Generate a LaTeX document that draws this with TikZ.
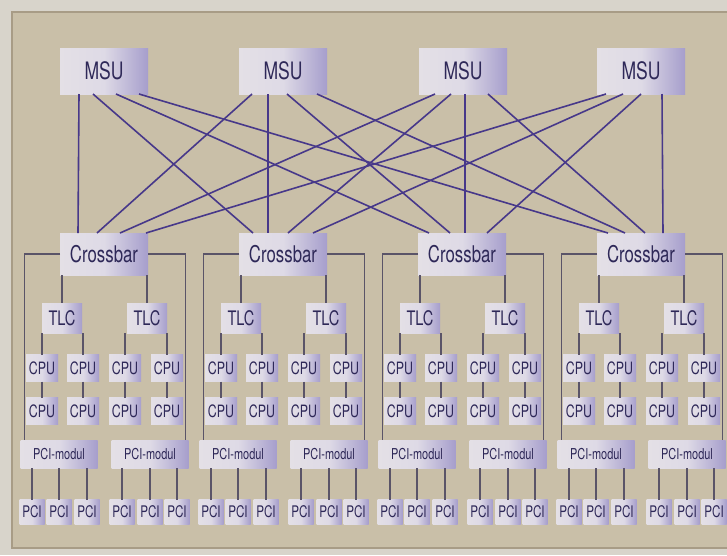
\documentclass[tikz,border=0pt]{standalone}
\usepackage{fontspec}
\setmainfont[FakeStretch=0.73]{TeX Gyre Heros}
\usetikzlibrary{calc}
\definecolor{outerbg}{HTML}{D8D4CB}
\definecolor{panel}{HTML}{C9BFA8}
\definecolor{panelline}{HTML}{A89C86}
\definecolor{boxL}{HTML}{E4E0E6}
\definecolor{boxM}{HTML}{DEDAE6}
\definecolor{boxR}{HTML}{A69ECC}
\definecolor{txt}{HTML}{2E2858}
\definecolor{buscol}{HTML}{47388A}
\definecolor{wirecol}{HTML}{5A5468}
\newcommand\msulink[4]{\draw[bus] ($(msu#1.south west)+(#2,0)$) -- ($(cb#3.north west)+(#4,0)$);}
\begin{document}
\begin{tikzpicture}[x=1pt,y=-1pt,
  unit/.style={inner sep=0pt, outer sep=0pt, left color=boxL, right color=boxR, middle color=boxM, text=txt, anchor=center},
  msubox/.style={unit, minimum width=88pt, minimum height=46pt, font=\fontsize{24}{24}\selectfont},
  cbbox/.style={unit, minimum width=88pt, minimum height=42pt, font=\fontsize{23}{23}\selectfont},
  tlcbox/.style={unit, minimum width=40pt, minimum height=30pt, font=\fontsize{20}{20}\selectfont},
  cpubox/.style={unit, minimum width=32pt, minimum height=27pt, font=\fontsize{17}{17}\selectfont},
  modbox/.style={unit, minimum width=77pt, minimum height=28pt, font=\fontsize{15}{15}\selectfont},
  pcibox/.style={unit, minimum width=25pt, minimum height=25pt, font=\fontsize{16}{16}\selectfont},
  bus/.style={draw=buscol, line width=1.6pt},
  wire/.style={draw=wirecol, line width=1.3pt}]
\useasboundingbox (0,0) rectangle (727,555);
\fill[outerbg] (0,0) rectangle (727,555);
\filldraw[fill=panel, draw=panelline, line width=1.5pt] (12,12) rectangle (740,548);

% MSU row
\foreach \i/\c in {1/104,2/283,3/463,4/641} {
  \node[msubox] (msu\i) at (\c,71) {MSU};
}

% groups
\foreach \g/\L in {1/24,2/203,3/382,4/561} {
  \node[cbbox] (cb\g) at (\L+80,254) {Crossbar};
  \node[tlcbox] (tlc\g a) at (\L+38,318) {TLC};
  \node[tlcbox] (tlc\g b) at (\L+123,318) {TLC};
  \draw[wire] (cb\g.south -| tlc\g a) -- (tlc\g a);
  \draw[wire] (cb\g.south -| tlc\g b) -- (tlc\g b);
  \foreach \k/\dx in {1/18,2/59,3/101,4/143} {
    \node[cpubox] (cpu\g-\k-1) at (\L+\dx,368) {CPU};
    \node[cpubox] (cpu\g-\k-2) at (\L+\dx,411) {CPU};
    \draw[wire] (cpu\g-\k-1) -- (cpu\g-\k-2);
  }
  \draw[wire] (tlc\g a.south -| cpu\g-1-1) -- (cpu\g-1-1);
  \draw[wire] (tlc\g a.south -| cpu\g-2-1) -- (cpu\g-2-1);
  \draw[wire] (tlc\g b.south -| cpu\g-3-1) -- (cpu\g-3-1);
  \draw[wire] (tlc\g b.south -| cpu\g-4-1) -- (cpu\g-4-1);
  \node[modbox] (mod\g a) at (\L+35,454) {PCI-modul};
  \node[modbox] (mod\g b) at (\L+126,454) {PCI-modul};
  \draw[wire] (cb\g.west) -| ($(mod\g a.north west)+(4,0)$);
  \draw[wire] (cb\g.east) -| ($(mod\g b.north east)+(-3,0)$);
  \foreach \k/\dx in {1/8,2/35,3/63} {
    \node[pcibox] (pci\g-\k) at (\L+\dx,512) {PCI};
    \draw[wire] (mod\g a.south -| pci\g-\k) -- (pci\g-\k);
  }
  \foreach \k/\dx in {4/98,5/126,6/153} {
    \node[pcibox] (pci\g-\k) at (\L+\dx,512) {PCI};
    \draw[wire] (mod\g b.south -| pci\g-\k) -- (pci\g-\k);
  }
}

% MSU to crossbar links
\msulink{1}{19}{1}{18}
\msulink{1}{33}{2}{14}
\msulink{1}{56}{3}{11}
\msulink{1}{79}{4}{11}
\msulink{2}{13}{1}{37}
\msulink{2}{29}{2}{29}
\msulink{2}{48}{3}{32}
\msulink{2}{78}{4}{28}
\msulink{3}{16}{1}{60}
\msulink{3}{32}{2}{49}
\msulink{3}{46}{3}{47}
\msulink{3}{69}{4}{48}
\msulink{4}{9}{1}{86}
\msulink{4}{26}{2}{74}
\msulink{4}{44}{3}{69}
\msulink{4}{65}{4}{66}
\end{tikzpicture}
\end{document}
